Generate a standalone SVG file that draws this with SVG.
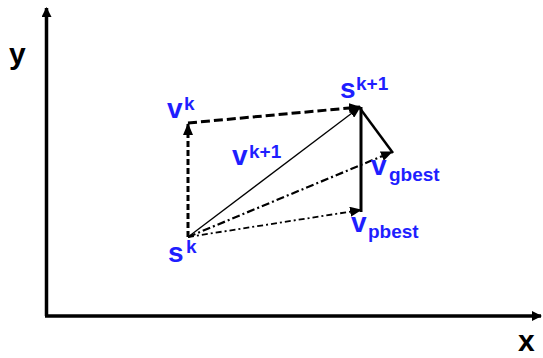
<svg xmlns="http://www.w3.org/2000/svg" width="543" height="358" viewBox="0 0 543 358">
<defs>
<marker id="ah" markerUnits="userSpaceOnUse" markerWidth="12" markerHeight="10" refX="11" refY="5" orient="auto">
<path d="M0,0 L12,5 L0,10 z" fill="#000"/>
</marker>
<marker id="ax" markerUnits="userSpaceOnUse" markerWidth="10" markerHeight="10" refX="9" refY="5" orient="auto">
<path d="M0,0 L10,5 L0,10 z" fill="#000"/>
</marker>
</defs>
<style>
.lbl{font-family:"Liberation Sans",Arial,sans-serif;font-weight:bold;fill:#1f1fff}
.big{font-size:28px}
.sup{font-size:19px}
.axl{font-family:"Liberation Sans",Arial,sans-serif;font-weight:bold;font-size:30px;fill:#000}
.ln{fill:none;stroke:#000}
</style>
<rect width="543" height="358" fill="#fff"/>
<g id="axes">
<line class="ln" x1="46.5" y1="316" x2="46.5" y2="8" stroke-width="3.5" marker-end="url(#ax)"/>
<line class="ln" x1="45" y1="316" x2="541" y2="316" stroke-width="3.5" marker-end="url(#ax)"/>
<text class="axl" x="9" y="64">y</text>
<text class="axl" x="518" y="351">x</text>
</g>
<g id="connectors">
<line class="ln" x1="188" y1="237" x2="188" y2="124" stroke-width="3" stroke-dasharray="6 3" marker-end="url(#ah)"/>
<line class="ln" x1="188" y1="123" x2="360" y2="107" stroke-width="3" stroke-dasharray="9 4" marker-end="url(#ah)"/>
<line class="ln" x1="188" y1="237" x2="360" y2="107" stroke-width="1.3" marker-end="url(#ah)"/>
<line class="ln" x1="188" y1="237" x2="392" y2="152" stroke-width="2.2" stroke-dasharray="8 3 2 3" marker-end="url(#ah)"/>
<line class="ln" x1="188" y1="237" x2="361" y2="210" stroke-width="1.8" stroke-dasharray="6 3 2 3" marker-end="url(#ah)"/>
<line class="ln" x1="361" y1="107" x2="361" y2="212" stroke-width="3"/>
<line class="ln" x1="359" y1="107" x2="393" y2="153" stroke-width="2.5"/>
</g>
<g id="sk"><text class="lbl"><tspan class="big" x="168" y="262">s</tspan><tspan class="sup" x="186" y="253">k</tspan></text></g>
<g id="vk"><text class="lbl"><tspan class="big" x="167" y="118">v</tspan><tspan class="sup" x="184" y="110">k</tspan></text></g>
<g id="sk1"><text class="lbl"><tspan class="big" x="340" y="98">s</tspan><tspan class="sup" x="356" y="90">k+1</tspan></text></g>
<g id="vk1"><text class="lbl"><tspan class="big" x="232" y="165">v</tspan><tspan class="sup" x="249" y="158">k+1</tspan></text></g>
<g id="vgbest"><text class="lbl"><tspan class="big" x="371" y="175">v</tspan><tspan class="sup" x="389" y="181">gbest</tspan></text></g>
<g id="vpbest"><text class="lbl"><tspan class="big" x="351" y="232">v</tspan><tspan class="sup" x="368" y="238">pbest</tspan></text></g>
</svg>
